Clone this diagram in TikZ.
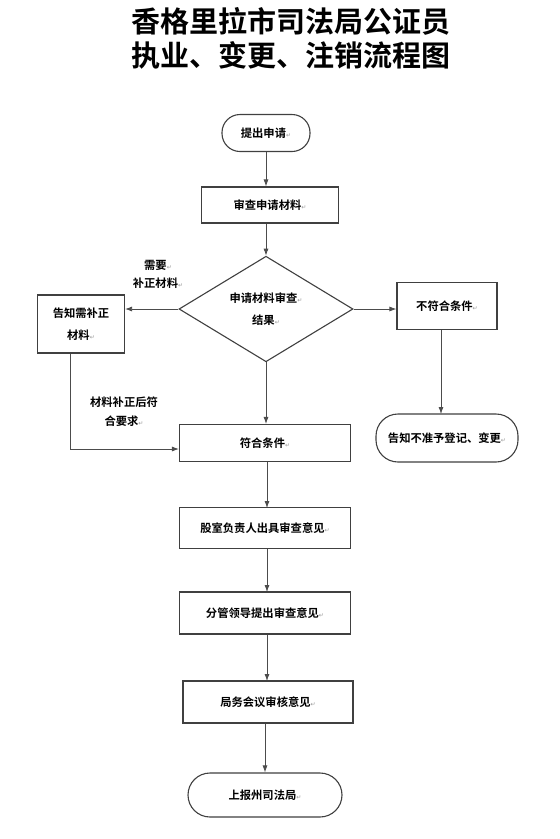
\documentclass[tikz,border=0pt]{standalone}
\usepackage{fontspec}
\usetikzlibrary{arrows.meta,shapes.geometric}
\newfontfamily\cjkb{Noto Sans CJK SC}[UprightFont=* Bold]
\newfontfamily\djv{DejaVu Sans}
\newcommand\retmark{{\djv\fontsize{6}{6}\selectfont\color{black!40}↵}}
\tikzset{
  base/.style={draw=black!75, line width=1.1pt, font=\cjkb\fontsize{11.3}{22}\selectfont, align=center, inner sep=0pt},
  procbox/.style={base, rectangle, minimum width=171pt, minimum height=40pt},
  conn/.style={draw=black!70, line width=0.8pt, -{Latex[length=7pt,width=5pt]}},
  lbl/.style={font=\cjkb\fontsize{11.3}{19}\selectfont, align=center, inner sep=0pt},
}
\begin{document}
\begin{tikzpicture}[x=1pt,y=-1pt]
\useasboundingbox (0,0) rectangle (560,839);
\fill[white] (0,0) rectangle (560,839);
\node[font=\cjkb\fontsize{29}{36}\selectfont, inner sep=0pt] (t1) at (291,21) {香格里拉市司法局公证员};
\node[font=\cjkb\fontsize{29}{36}\selectfont, inner sep=0pt] (t2) at (291,55) {执业、变更、注销流程图};

\node[base, rectangle, rounded corners=18pt, minimum width=88pt, minimum height=37pt] (start) at (266,133) {提出申请\retmark};
\node[procbox, minimum width=137pt, minimum height=36pt] (review) at (270,205) {审查申请材料\retmark};
\node[base, diamond, minimum width=174pt, minimum height=104pt] (dec) at (266,309) {申请材料审查\retmark\\结果\retmark};
\node[procbox, minimum width=87pt, minimum height=58pt] (notify) at (81,324) {告知需补正\\材料\retmark};
\node[procbox, minimum width=100pt, minimum height=47pt] (notok) at (447,306) {不符合条件\retmark};
\node[base, rectangle, rounded corners=22pt, minimum width=142pt, minimum height=48pt] (reject) at (447,438) {告知不准予登记、变更\retmark};
\node[procbox, minimum height=37pt] (ok) at (265,443) {符合条件\retmark};
\node[procbox, minimum height=41pt] (sect) at (265,528) {股室负责人出具审查意见\retmark};
\node[procbox, minimum height=42pt] (lead) at (265,613) {分管领导提出审查意见\retmark};
\node[procbox, minimum width=170pt, minimum height=42pt] (meet) at (268,702) {局务会议审核意见\retmark};
\node[base, rectangle, rounded corners=22pt, minimum width=154pt, minimum height=44pt] (report) at (265,795) {上报州司法局\retmark};

\node[lbl, font=\cjkb\fontsize{11.3}{18}\selectfont] (l1) at (158,274) {需要\retmark\\补正材料\retmark};
\node[lbl] (l2) at (124,412) {材料补正后符\\合要求\retmark};

\draw[conn] (start.south) -- (start.south |- review.north);
\draw[conn] (review.south -| dec.north) -- (dec.north);
\draw[conn] (dec.west) -- (notify.east |- dec.west);
\draw[conn] (dec.east) -- (notok.west |- dec.east);
\draw[conn] (notok.south -| 441,0) -- (441,414);
\draw[conn] (dec.south) -- (dec.south |- ok.north);
\coordinate (c1) at (70,449);
\draw[conn] (notify.south -| c1) -- (c1) -- (ok.west |- c1);
\draw[conn] (ok.south -| 267,0) -- (267,508);
\draw[conn] (sect.south -| 267,0) -- (267,592);
\draw[conn] (lead.south -| 267,0) -- (267,681);
\draw[conn] (meet.south -| 265,0) -- (report.north);
\end{tikzpicture}
\end{document}
